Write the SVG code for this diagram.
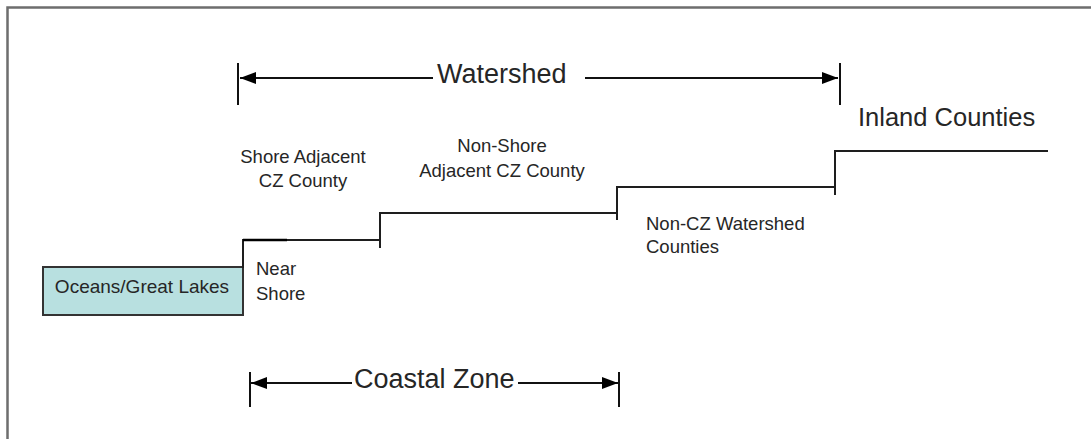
<svg xmlns="http://www.w3.org/2000/svg" width="1091" height="439" viewBox="0 0 1091 439">
<style>
text{font-family:"Liberation Sans",Arial,sans-serif;fill:#262626}
.s{font-size:18.5px}
.l{font-size:27px}
.step{fill:none;stroke:#1e1e1e;stroke-width:2}
.dim{fill:none;stroke:#111;stroke-width:2}
</style>
<defs>
<marker id="ah" viewBox="0 0 16 12" refX="16" refY="6" markerWidth="16" markerHeight="12" markerUnits="userSpaceOnUse" orient="auto">
<path d="M0,0 L16,6 L0,12 Z" fill="#000"/>
</marker>
</defs>
<rect x="0" y="0" width="1091" height="439" fill="#fff"/>
<g id="frame">
<path d="M7.5,439 V7.5 H1091" fill="none" stroke="#6e6e6e" stroke-width="2.5"/>
</g>
<g id="oceans">
<rect x="43" y="267" width="200" height="48" fill="#b8e0e0" stroke="#333" stroke-width="2"/>
<text x="142" y="293" text-anchor="middle" style="font-size:19px">Oceans/Great Lakes</text>
</g>
<g id="near-shore">
<text class="s" x="256" y="275">Near</text>
<text class="s" x="256" y="300">Shore</text>
</g>
<g id="shore-adjacent">
<text class="s" x="303" y="163" text-anchor="middle">Shore Adjacent</text>
<text class="s" x="303" y="187" text-anchor="middle">CZ County</text>
</g>
<g id="non-shore">
<text class="s" x="502" y="152" text-anchor="middle">Non-Shore</text>
<text class="s" x="502" y="177" text-anchor="middle">Adjacent CZ County</text>
</g>
<g id="non-cz">
<text class="s" x="646" y="230">Non-CZ Watershed</text>
<text class="s" x="646" y="253">Counties</text>
</g>
<g id="inland">
<text x="858" y="126" style="font-size:25.5px">Inland Counties</text>
</g>
<g id="watershed-label">
<text class="l" x="437" y="83">Watershed</text>
</g>
<g id="coastal-label">
<text class="l" x="354" y="388">Coastal Zone</text>
</g>
<g id="connectors">
<path class="step" d="M243,268 V240 H380 V213 H617 V187 H835 V151 H1048"/>
<path d="M243,240 H287" stroke="#000" stroke-width="2.5"/>
<path class="step" d="M380,240 V248 M617,213 V220 M835,187 V195"/>
<path class="dim" d="M238,63 V105 M840,63 V105"/>
<path class="dim" d="M433,78 H240" marker-end="url(#ah)"/>
<path class="dim" d="M585,78 H838" marker-end="url(#ah)"/>
<path class="dim" d="M250,372 V407 M619,372 V407"/>
<path class="dim" d="M352,383 H251" marker-end="url(#ah)"/>
<path class="dim" d="M518,383 H618" marker-end="url(#ah)"/>
</g>
</svg>
